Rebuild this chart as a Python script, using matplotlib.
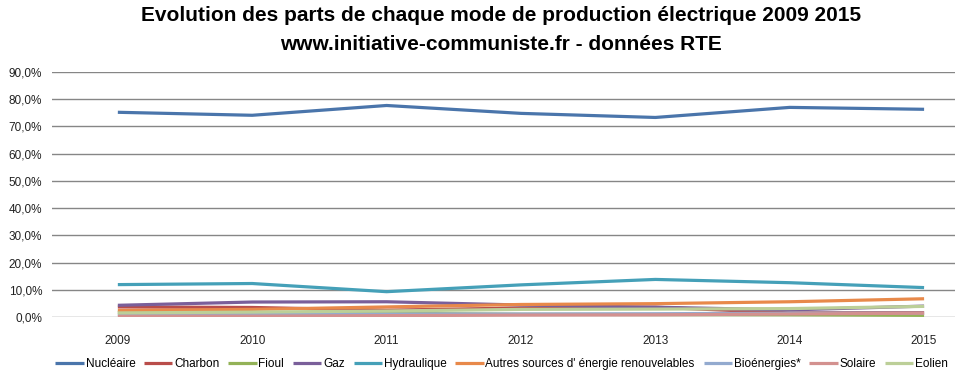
import matplotlib.pyplot as plt
from matplotlib.ticker import FuncFormatter

plt.rcParams['font.family'] = ['Liberation Sans', 'DejaVu Sans']

YEARS = ['2009', '2010', '2011', '2012', '2013', '2014', '2015']

# parts en % de la production
nucleaire = [75.2, 74.1, 77.7, 74.8, 73.3, 77.0, 76.3]
charbon = [3.7, 3.5, 2.5, 3.3, 3.6, 1.5, 1.6]
fioul = [1.8, 1.4, 1.3, 1.0, 0.9, 0.8, 0.6]
gaz = [4.3, 5.5, 5.6, 4.4, 3.6, 2.6, 4.0]
hydraulique = [11.9, 12.3, 9.3, 11.8, 13.8, 12.6, 10.8]
autres = [2.4, 2.8, 3.7, 4.6, 4.9, 5.6, 6.7]
bio = [0.9, 0.9, 1.1, 1.1, 1.2, 1.4, 1.4]
solaire = [0.3, 0.3, 0.5, 0.7, 0.8, 1.1, 1.4]
eolien = [1.5, 1.8, 2.2, 2.8, 2.9, 3.1, 3.9]

series = [
    ('Nucléaire', nucleaire, '#4a75ab'),
    ('Charbon', charbon, '#b94d4a'),
    ('Fioul', fioul, '#93b257'),
    ('Gaz', gaz, '#7a5f9a'),
    ('Hydraulique', hydraulique, '#45a0b8'),
    ("Autres sources d' énergie renouvelables", autres, '#e8894a'),
    ('Bioénergies*', bio, '#93aacf'),
    ('Solaire', solaire, '#d3918f'),
    ('Eolien', eolien, '#bccf98'),
]

fig = plt.figure(figsize=(9.59, 3.75), dpi=100)
ax = fig.add_axes([52 / 959, 1 - 317 / 375, (955 - 52) / 959, (317 - 72) / 375])

x = range(len(YEARS))
for name, vals, col in series:
    ax.plot(x, [v / 100 for v in vals], color=col, lw=2.3, label=name,
            solid_capstyle='butt')

ax.set_ylim(0, 0.9)
ax.set_yticks([i / 10 for i in range(10)])
ax.yaxis.set_major_formatter(FuncFormatter(lambda v, p: ('%.1f%%' % (v * 100)).replace('.', ',')))
ax.set_xlim(-0.49, 6.23)
ax.set_xticks(list(x))
ax.set_xticklabels(YEARS)
ax.grid(axis='y', color='#868686', lw=1)
ax.set_axisbelow(True)
for s in ax.spines.values():
    s.set_visible(False)
ax.tick_params(length=0, labelsize=8.5, colors='#222222')
ax.tick_params(axis='x', pad=13)
ax.tick_params(axis='y', pad=7)

fig.text(0.522, 0.958, 'Evolution des parts de chaque mode de production électrique 2009 2015',
         ha='center', va='center', fontsize=15, fontweight='bold')
fig.text(0.522, 0.882, 'www.initiative-communiste.fr - données RTE',
         ha='center', va='center', fontsize=15, fontweight='bold')

fig.legend(loc='center', bbox_to_anchor=(0.523, 0.03), ncol=9, frameon=False,
           fontsize=8.5, handlelength=2.4, handletextpad=0.15, columnspacing=0.75)

fig.savefig('out.png', dpi=100)
